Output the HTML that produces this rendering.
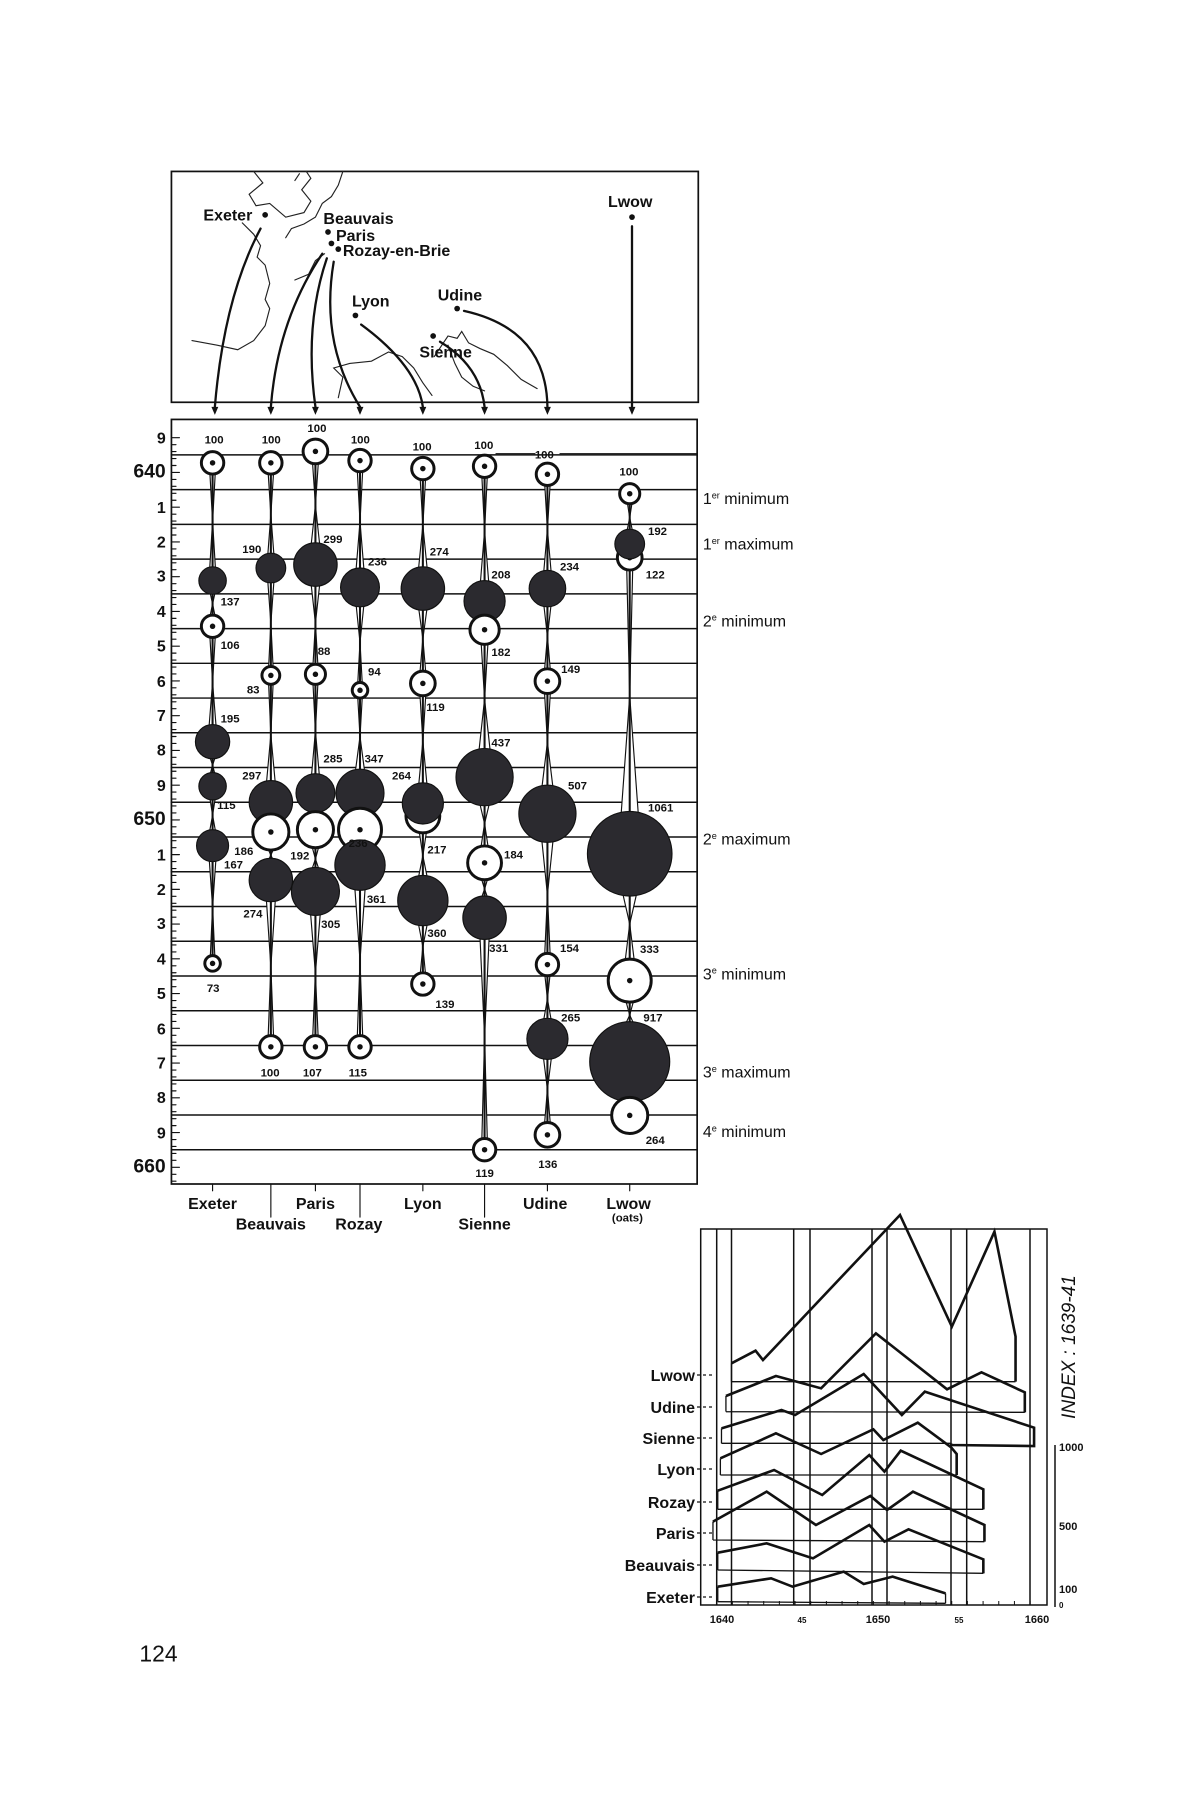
<!DOCTYPE html>
<html><head><meta charset="utf-8"><style>
html,body{margin:0;padding:0;background:#fff;}
svg{display:block;}
text{font-family:"Liberation Sans",sans-serif;fill:#111;}
.n{font-size:10px;font-weight:bold;}
.yl{font-size:14px;font-weight:bold;}
.yb{font-size:17px;}
.mp{font-size:14px;font-weight:bold;}
.rl{font-size:14px;}
.bl{font-size:14px;font-weight:bold;}
.ax{font-size:11px;font-weight:bold;}
</style></head><body>
<svg id="s" width="1200" height="1800" viewBox="0 0 1200 1800" xmlns="http://www.w3.org/2000/svg">
<rect width="1200" height="1800" fill="#fff"/>
<g id="top" transform="scale(1.142857)" stroke-linecap="round">
 <rect x="150" y="150" width="461" height="202" fill="none" stroke="#111" stroke-width="1.5"/>
 <g fill="none" stroke="#222" stroke-width="1">
  <path d="M222,150 L230,160 L218,170 L224,180 L236,178 L250,190 L266,186 L272,176 L264,166 L272,156 L268,150"/>
  <path d="M300,150 L296,162 L290,172 L282,178 L276,190 L266,196 L255,200 L250,208"/>
  <path d="M212,195 L222,205 L228,215 L225,225 L232,232 L236,248 L232,262 L236,270 L232,285 L222,298 L208,306 L190,302 L168,298"/>
  <path d="M258,245 L270,240 L276,228 L284,222"/>
  <path d="M296,348 L300,330 L292,322 L306,318 L325,316 L340,308 L352,312 L362,322 L370,335 L378,346"/>
  <path d="M380,312 L388,300 L392,294 L400,296 L404,290 L410,300 L420,305 L432,310 L444,320 L456,332 L470,340"/>
  <path d="M392,302 L398,318 L404,330 L414,338 L424,342"/>
  <path d="M262,152 L258,158"/>
 </g>
 <g fill="#111">
  <circle cx="232" cy="188" r="2.5"/><circle cx="287" cy="203" r="2.5"/><circle cx="290" cy="213" r="2.5"/>
  <circle cx="296" cy="218" r="2.5"/><circle cx="311" cy="276" r="2.5"/><circle cx="400" cy="270" r="2.5"/>
  <circle cx="379" cy="294" r="2.5"/><circle cx="553" cy="190" r="2.5"/>
 </g>
 <text class="mp" x="178" y="193">Exeter</text>
 <text class="mp" x="283" y="196">Beauvais</text>
 <text class="mp" x="294" y="211">Paris</text>
 <text class="mp" x="300" y="224">Rozay-en-Brie</text>
 <text class="mp" x="308" y="268">Lyon</text>
 <text class="mp" x="383" y="263">Udine</text>
 <text class="mp" x="367" y="313">Sienne</text>
 <text class="mp" x="532" y="181">Lwow</text>
 <g fill="none" stroke="#111" stroke-width="2">
  <path d="M228,200 Q196,260 188,356"/>
  <path d="M282,222 Q243,280 237,356"/>
  <path d="M286,226 Q266,285 276,356"/>
  <path d="M292,229 Q280,300 315,356"/>
  <path d="M316,284 Q365,320 370,356"/>
  <path d="M385,299 Q420,320 424,356"/>
  <path d="M406,272 Q478,288 479,356"/>
  <path d="M553,198 L553,356"/>
 </g>
 <g fill="#111">
  <path d="M185,356 L191,356 L188,363Z"/><path d="M234,356 L240,356 L237,363Z"/><path d="M273,356 L279,356 L276,363Z"/>
  <path d="M312,356 L318,356 L315,363Z"/><path d="M367,356 L373,356 L370,363Z"/><path d="M421,356 L427,356 L424,363Z"/>
  <path d="M476,356 L482,356 L479,363Z"/><path d="M550,356 L556,356 L553,363Z"/>
 </g>
 <rect x="150" y="367" width="460" height="669" fill="none" stroke="#111" stroke-width="1.5"/>
 <g id="hl" stroke="#111" stroke-width="1.3"></g>
 <g id="ticks" stroke="#111" stroke-width="1"></g>
 <g id="sp" fill="#fff" stroke="#111" stroke-width="1"></g>
 <g id="cc"></g>
 <g class="yl" text-anchor="end">
  <text x="145" y="388">9</text><text x="145" y="418" class="yb">640</text><text x="145" y="449">1</text>
  <text x="145" y="479">2</text><text x="145" y="509">3</text><text x="145" y="540">4</text><text x="145" y="570">5</text>
  <text x="145" y="601">6</text><text x="145" y="631">7</text><text x="145" y="661">8</text><text x="145" y="692">9</text>
  <text x="145" y="722" class="yb">650</text><text x="145" y="753">1</text><text x="145" y="783">2</text>
  <text x="145" y="813">3</text><text x="145" y="844">4</text><text x="145" y="874">5</text><text x="145" y="905">6</text>
  <text x="145" y="935">7</text><text x="145" y="965">8</text><text x="145" y="996">9</text>
  <text x="145" y="1026" class="yb">660</text>
 </g>
 <g class="n">
  <text x="179" y="388">100</text><text x="193" y="530">137</text><text x="193" y="568">106</text><text x="193" y="632">195</text>
  <text x="190" y="708">115</text><text x="205" y="748">186</text><text x="196" y="760">167</text><text x="181" y="868">73</text>
  <text x="229" y="388">100</text><text x="212" y="484">190</text><text x="216" y="607">83</text><text x="212" y="682">297</text>
  <text x="213" y="803">274</text><text x="228" y="942">100</text>
  <text x="269" y="378">100</text><text x="283" y="475">299</text><text x="278" y="573">88</text><text x="283" y="667">285</text>
  <text x="254" y="752">192</text><text x="281" y="812">305</text><text x="265" y="942">107</text>
  <text x="307" y="388">100</text><text x="322" y="495">236</text><text x="322" y="591">94</text><text x="319" y="667">347</text>
  <text x="305" y="741">236</text><text x="321" y="790">361</text><text x="305" y="942">115</text>
  <text x="361" y="394">100</text><text x="376" y="486">274</text><text x="373" y="622">119</text><text x="343" y="682">264</text>
  <text x="374" y="747">217</text><text x="374" y="820">360</text><text x="381" y="882">139</text>
  <text x="415" y="393">100</text><text x="430" y="506">208</text><text x="430" y="574">182</text><text x="430" y="653">437</text>
  <text x="441" y="751">184</text><text x="428" y="833">331</text><text x="416" y="1030">119</text>
  <text x="468" y="401">100</text><text x="490" y="499">234</text><text x="491" y="589">149</text><text x="497" y="691">507</text>
  <text x="490" y="833">154</text><text x="491" y="894">265</text><text x="471" y="1022">136</text>
  <text x="542" y="416">100</text><text x="567" y="468">192</text><text x="565" y="506">122</text><text x="567" y="710">1061</text>
  <text x="560" y="834">333</text><text x="563" y="894">917</text><text x="565" y="1001">264</text>
 </g>
 <line x1="434" y1="397" x2="468" y2="397" stroke="#111" stroke-width="1"/>
 <line x1="490" y1="397" x2="610" y2="397" stroke="#111" stroke-width="1"/>
 <g class="rl">
  <text x="615" y="441">1<tspan font-size="8" dy="-5">er</tspan><tspan dy="5"> minimum</tspan></text>
  <text x="615" y="481">1<tspan font-size="8" dy="-5">er</tspan><tspan dy="5"> maximum</tspan></text>
  <text x="615" y="548">2<tspan font-size="8" dy="-5">e</tspan><tspan dy="5"> minimum</tspan></text>
  <text x="615" y="739">2<tspan font-size="8" dy="-5">e</tspan><tspan dy="5"> maximum</tspan></text>
  <text x="615" y="857">3<tspan font-size="8" dy="-5">e</tspan><tspan dy="5"> minimum</tspan></text>
  <text x="615" y="943">3<tspan font-size="8" dy="-5">e</tspan><tspan dy="5"> maximum</tspan></text>
  <text x="615" y="995">4<tspan font-size="8" dy="-5">e</tspan><tspan dy="5"> minimum</tspan></text>
 </g>
 <g stroke="#111" stroke-width="1">
  <line x1="186" y1="1036" x2="186" y2="1042"/><line x1="276" y1="1036" x2="276" y2="1042"/>
  <line x1="370" y1="1036" x2="370" y2="1042"/><line x1="479" y1="1036" x2="479" y2="1042"/>
  <line x1="551" y1="1036" x2="551" y2="1042"/>
  <line x1="237" y1="1036" x2="237" y2="1065"/><line x1="315" y1="1036" x2="315" y2="1065"/>
  <line x1="424" y1="1036" x2="424" y2="1065"/>
 </g>
 <g class="bl" text-anchor="middle">
  <text x="186" y="1058">Exeter</text><text x="276" y="1058">Paris</text><text x="370" y="1058">Lyon</text>
  <text x="477" y="1058">Udine</text><text x="550" y="1058">Lwow</text>
  <text x="237" y="1076">Beauvais</text><text x="314" y="1076">Rozay</text><text x="424" y="1076">Sienne</text>
  <text x="549" y="1069" font-size="10">(oats)</text>
 </g>
 <text x="122" y="1454" font-family="Liberation Serif,serif" font-size="20">124</text>
</g>

<g id="low" fill="none" stroke="#111">
 <rect x="700.7" y="1229" width="346.3" height="376" stroke-width="1.5"/>
 <g stroke-width="1.5">
  <line x1="716.7" y1="1229" x2="716.7" y2="1605"/><line x1="731.5" y1="1229" x2="731.5" y2="1605"/>
  <line x1="793.7" y1="1229" x2="793.7" y2="1605"/><line x1="810" y1="1229" x2="810" y2="1605"/>
  <line x1="872" y1="1229" x2="872" y2="1605"/><line x1="887" y1="1229" x2="887" y2="1605"/>
  <line x1="951" y1="1229" x2="951" y2="1605"/><line x1="966.7" y1="1229" x2="966.7" y2="1605"/>
  <line x1="1030" y1="1229" x2="1030" y2="1605"/>
  <line x1="1055" y1="1445" x2="1055" y2="1607"/>
 </g>
 <g id="series" transform="translate(600,1200) scale(0.37037,0.33333)" stroke-linejoin="miter"></g>
</g>
<g font-weight="bold" font-size="16" text-anchor="end">
 <text x="695" y="1381">Lwow</text><text x="695" y="1413">Udine</text><text x="695" y="1444">Sienne</text>
 <text x="695" y="1475">Lyon</text><text x="695" y="1508">Rozay</text><text x="695" y="1539">Paris</text>
 <text x="695" y="1571">Beauvais</text><text x="695" y="1603">Exeter</text>
</g>
<g class="ax" text-anchor="middle">
 <text x="722" y="1623">1640</text><text x="802" y="1623" font-size="8">45</text><text x="878" y="1623">1650</text>
 <text x="959" y="1623" font-size="8">55</text><text x="1037" y="1623">1660</text>
</g>
<g class="ax">
 <text x="1059" y="1451">1000</text><text x="1059" y="1530">500</text><text x="1059" y="1593">100</text><text x="1059" y="1608" font-size="8">0</text>
</g>
<text transform="translate(1075,1347) rotate(-90)" text-anchor="middle" font-size="19" font-style="italic">INDEX : 1639-41</text>
</svg>
<script>
var NS="http://www.w3.org/2000/svg";
function el(p,t,a){var e=document.createElementNS(NS,t);for(var k in a)e.setAttribute(k,a[k]);p.appendChild(e);return e;}
var hl=document.getElementById('hl'),tk=document.getElementById('ticks');
for(var k=0;k<21;k++){var y=398+30.4*k;el(hl,'line',{x1:150,y1:y,x2:610,y2:y});}
for(var k=0;k<22;k++){var y=383+30.4*k;el(tk,'line',{x1:150,y1:y,x2:157,y2:y});
 for(var m=1;m<5;m++){var yy=y+m*6.08;if(yy<1036)el(tk,'line',{x1:150,y1:yy,x2:154,y2:yy});}}
var cols=[
[186,[[405,11,0],[508,12,1],[548,11,0],[649,15,1],[688,12,1],[740,14,1],[843,8,0]]],
[237,[[405,11,0],[497,13,1],[591,9,0],[702,19,1],[728,17,0],[770,19,1],[916,11,0]]],
[276,[[395,12,0],[494,19,1],[590,10,0],[694,17,1],[726,17,0],[780,21,1],[916,11,0]]],
[315,[[403,11,0],[514,17,1],[604,8,0],[694,21,1],[726,20,0],[757,22,1],[916,11,0]]],
[370,[[410,11,0],[515,19,1],[598,12,0],[714,16,0],[703,18,1],[788,22,1],[861,11,0]]],
[424,[[408,11,0],[526,18,1],[551,14,0],[680,25,1],[755,16,0],[803,19,1],[1006,11,0]]],
[479,[[415,11,0],[515,16,1],[596,12,0],[712,25,1],[844,11,0],[909,18,1],[993,12,0]]],
[551,[[432,10,0],[488,12,0],[476,13,1],[747,37,1],[858,20,0],[929,35,1],[976,17,0]]]];
var sp=document.getElementById('sp'),cc=document.getElementById('cc');
cols.forEach(function(c){var x=c[0],L=c[1].slice().sort(function(a,b){return a[0]-b[0];});
 for(var i=0;i<L.length-1;i++){var a=L[i],b=L[i+1];var y1=a[0]+a[1]*0.7,y2=b[0]-b[1]*0.7;if(y2<=y1)continue;
  var w1=Math.max(2,a[1]*0.22),w2=Math.max(2,b[1]*0.22),ym=(y1+y2)/2;
  el(sp,'path',{d:'M'+(x-w1)+','+y1+' L'+x+','+ym+' L'+(x-w2)+','+y2+' L'+(x+w2)+','+y2+' L'+x+','+ym+' L'+(x+w1)+','+y1+'Z'});
  el(sp,'line',{x1:x,y1:y1,x2:x,y2:y2,'stroke-width':1.8});}
 c[1].forEach(function(d){if(d[2]){el(cc,'circle',{cx:x,cy:d[0],r:d[1],fill:'#2b2a2f',stroke:'#111','stroke-width':1});}
  else{el(cc,'circle',{cx:x,cy:d[0],r:d[1]-1.2,fill:'#fff',stroke:'#111','stroke-width':2.6});el(cc,'circle',{cx:x,cy:d[0],r:2.4,fill:'#111'});}});
});
var S=[
[[355,545],[355,490],[420,452],[440,480],[810,45],[950,380],[1065,95],[1122,410],[1122,545],[355,545]],
[[340,635],[340,588],[475,528],[597,565],[745,400],[937,568],[1030,517],[1147,577],[1147,637],[340,635]],
[[328,730],[328,685],[490,630],[527,645],[712,522],[815,645],[877,575],[1172,683],[1172,738],[948,735],[948,730],[328,730]],
[[325,825],[325,775],[475,700],[597,762],[738,688],[765,720],[858,668],[948,742],[963,762],[963,825],[325,825]],
[[318,928],[318,872],[470,810],[600,885],[727,765],[768,815],[812,752],[1035,868],[1035,928],[318,928]],
[[305,1020],[305,965],[450,875],[583,975],[730,888],[775,930],[845,875],[1038,975],[1038,1025],[305,1020]],
[[318,1110],[318,1058],[450,1030],[575,1075],[727,975],[768,1025],[833,988],[1035,1078],[1035,1120],[690,1115]],
[[318,1205],[318,1160],[462,1135],[520,1160],[658,1115],[712,1152],[790,1130],[933,1180],[933,1210]]];
var sg=document.getElementById('series');
S.forEach(function(p){
 el(sg,'path',{d:'M'+p[0].join(',')+' L'+p[1].join(',')+' M'+p[p.length-2].join(',')+' L'+p[p.length-1].join(','),'vector-effect':'non-scaling-stroke','stroke-width':1.3});
 var d='M'+p[1].join(',');for(var i=2;i<p.length-1;i++)d+=' L'+p[i].join(',');
 el(sg,'path',{d:d,'vector-effect':'non-scaling-stroke','stroke-width':2.6});
 el(sg,'path',{d:'M'+p[0].join(',')+' L'+p[p.length-1].join(','),'vector-effect':'non-scaling-stroke','stroke-width':1.3});
});
var rowsY=[1375,1407,1438,1469,1502,1533,1565,1597];
rowsY.forEach(function(y){el(document.getElementById('low'),'line',{x1:697,y1:y,x2:712,y2:y,'stroke-dasharray':'3,3','stroke-width':1.3});});
for(var i=0;i<=20;i++){var x=716.7+i*15.67;el(document.getElementById('low'),'line',{x1:x,y1:1605,x2:x,y2:1601,'stroke-width':1});}
</script>
</body></html>
